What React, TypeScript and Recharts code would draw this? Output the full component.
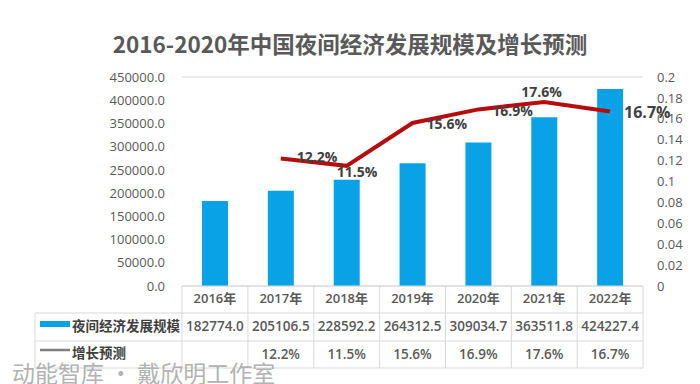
import React from "react";
import {
  ComposedChart,
  Bar,
  Line,
  XAxis,
  YAxis,
  CartesianGrid,
  LabelList,
} from "recharts";

// 2016-2022 night economy scale (bars) and growth forecast (line)
const years = ["2016年", "2017年", "2018年", "2019年", "2020年", "2021年", "2022年"];
const scaleValues = [182774.0, 205106.5, 228592.2, 264312.5, 309034.7, 363511.8, 424227.4];
const growthValues = [null, 0.122, 0.115, 0.156, 0.169, 0.176, 0.167];
const leftTicks = [0, 50000, 100000, 150000, 200000, 250000, 300000, 350000, 400000, 450000];
const rightTicks = [0, 0.02, 0.04, 0.06, 0.08, 0.1, 0.12, 0.14, 0.16, 0.18, 0.2];

const data = years.map((year, i) => ({
  year,
  scale: scaleValues[i],
  growth: growthValues[i],
}));

const FONT = "'Open Sans', 'Noto Sans CJK SC', sans-serif";
const CJK = "'Noto Sans CJK SC', sans-serif";
const TEXT = "#595959";
const BORDER = "#d9d9d9";
const BLUE = "#0aa2e6";
const RED = "#b50d0d";

// table under the plot
const TABLE_TOP = 286;
const ROW1 = 313;
const ROW2 = 341;
const ROW3 = 368;
const COL_W = 66;
const LEFT_EDGE = 35;

// where each growth label sits relative to its point
const labelOffsets = [
  [0, 0],
  [16, 0],
  [-10, 7],
  [14, 2],
  [14, 3],
  [-23, -9],
  [14, 2],
];

const pct = (v: number | null) => (v == null ? "" : (v * 100).toFixed(1) + "%");

function TableColumn(props: any) {
  const { x, index } = props;
  const l = x - COL_W / 2;
  const r = x + COL_W / 2;
  const d = data[index];
  return (
    <g>
      {index === 0 && (
        <g>
          <line x1={l} x2={l} y1={TABLE_TOP} y2={ROW3} stroke={BORDER} />
          <line x1={LEFT_EDGE} x2={l} y1={ROW1} y2={ROW1} stroke={BORDER} />
          <line x1={LEFT_EDGE} x2={l} y1={ROW2} y2={ROW2} stroke={BORDER} />
          <line x1={LEFT_EDGE} x2={l} y1={ROW3} y2={ROW3} stroke={BORDER} />
          <line x1={LEFT_EDGE} x2={LEFT_EDGE} y1={ROW1} y2={ROW3} stroke={BORDER} />
          <rect x={40} y={321} width={30} height={6} fill={BLUE} />
          <text x={72} y={327} fontSize={13.5} fontWeight={600} fill="#404040" fontFamily={CJK} dominantBaseline="middle">
            夜间经济发展规模
          </text>
          <line x1={40} x2={70} y1={350} y2={350} stroke="#7f7f7f" strokeWidth={2.5} />
          <text x={72} y={354} fontSize={13.5} fontWeight={600} fill="#404040" fontFamily={CJK} dominantBaseline="middle">
            增长预测
          </text>
        </g>
      )}
      <line x1={l} x2={r} y1={TABLE_TOP} y2={TABLE_TOP} stroke={BORDER} />
      <line x1={l} x2={r} y1={ROW1} y2={ROW1} stroke={BORDER} />
      <line x1={l} x2={r} y1={ROW2} y2={ROW2} stroke={BORDER} />
      <line x1={l} x2={r} y1={ROW3} y2={ROW3} stroke={BORDER} />
      <line x1={r} x2={r} y1={TABLE_TOP} y2={ROW3} stroke={BORDER} />
      <text x={x} y={300} textAnchor="middle" dominantBaseline="middle" fontSize={13} fontWeight={600} fill={TEXT} fontFamily={FONT}>
        {d.year}
      </text>
      <text x={x} y={327} textAnchor="middle" dominantBaseline="middle" fontSize={13.5} fontWeight={600} fill={TEXT} fontFamily={FONT}>
        {d.scale.toFixed(1)}
      </text>
      <text x={x} y={355} textAnchor="middle" dominantBaseline="middle" fontSize={13.5} fontWeight={600} fill={TEXT} fontFamily={FONT}>
        {pct(d.growth)}
      </text>
    </g>
  );
}

function GrowthLabel(props: any) {
  const { x, y, value, index } = props;
  if (value == null) return null;
  const [dx, dy] = labelOffsets[index];
  const last = index === data.length - 1;
  return (
    <text
      x={x + dx}
      y={y + dy}
      dominantBaseline="middle"
      fontSize={last ? 16 : 14}
      fontWeight={700}
      fill="#404040"
      fontFamily={FONT}
    >
      {pct(value)}
    </text>
  );
}

export default function App() {
  return (
    <div
      style={{
        position: "absolute",
        left: 0,
        top: 0,
        width: 700,
        height: 384,
        background: "#fff",
        overflow: "hidden",
      }}
    >
      <div
        style={{
          position: "absolute",
          left: 0,
          top: 28,
          width: 700,
          textAlign: "center",
          fontFamily: CJK,
          fontSize: 22.5,
          fontWeight: 700,
          color: TEXT,
          lineHeight: "30px",
        }}
      >
        2016-2020年中国夜间经济发展规模及增长预测
      </div>
      <ComposedChart
        width={700}
        height={384}
        data={data}
        margin={{ top: 77, right: 0, bottom: 0, left: 0 }}
      >
        <CartesianGrid vertical={false} stroke={BORDER} />
        <XAxis
          dataKey="year"
          height={98}
          axisLine={false}
          tickLine={false}
          interval={0}
          tick={<TableColumn />}
        />
        <YAxis
          yAxisId="left"
          width={182}
          domain={[0, 450000]}
          ticks={leftTicks}
          interval={0}
          axisLine={false}
          tickLine={false}
          tickMargin={11}
          tickFormatter={(v: number) => v.toFixed(1)}
          tick={{ fontSize: 13, fill: TEXT, fontFamily: FONT }}
        />
        <YAxis
          yAxisId="right"
          orientation="right"
          width={57}
          domain={[0, 0.2]}
          ticks={rightTicks}
          interval={0}
          axisLine={false}
          tickLine={false}
          tickMargin={8}
          tick={{ fontSize: 13, fill: TEXT, fontFamily: FONT }}
        />
        <Bar yAxisId="left" dataKey="scale" fill={BLUE} barSize={26} isAnimationActive={false} />
        <Line
          yAxisId="right"
          dataKey="growth"
          stroke={RED}
          strokeWidth={4}
          dot={false}
          isAnimationActive={false}
        >
          <LabelList dataKey="growth" content={<GrowthLabel />} />
        </Line>
      </ComposedChart>
      <div
        style={{
          position: "absolute",
          left: 12,
          top: 358,
          fontFamily: CJK,
          fontSize: 23,
          color: "#a6a6a6",
          opacity: 0.85,
          lineHeight: "28px",
          whiteSpace: "nowrap",
        }}
      >
        动能智库 • 戴欣明工作室
      </div>
    </div>
  );
}
